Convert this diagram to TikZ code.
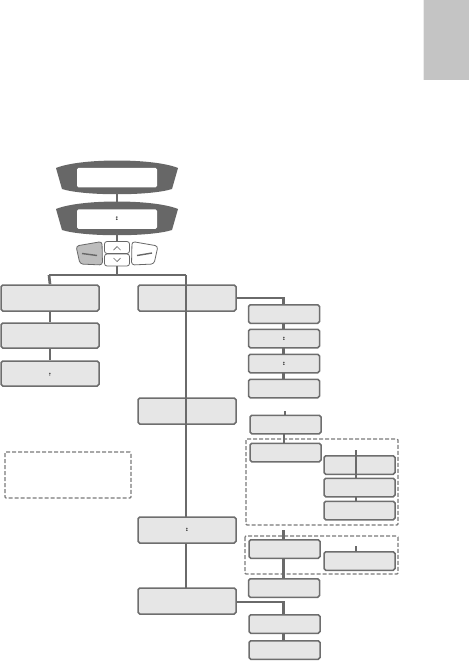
\documentclass[tikz,border=0pt]{standalone}
\usepackage{fontspec}
\newfontfamily\symf{DejaVu Sans}
\begin{document}
\begin{tikzpicture}[x=1pt,y=-1pt,
  conn/.style={draw=linec,line width=2.7pt},
  boxn/.style={draw=boxb,line width=1.5pt,fill=boxf,rounded corners=1.8pt,inner sep=0pt,font=\symf\fontsize{4.5}{5}\selectfont},
  bigbox/.style={boxn,minimum width=98pt,minimum height=26pt},
  smallbox/.style={boxn,minimum width=71pt,minimum height=18.5pt},
  dashbox/.style={draw=dashc,line width=1.2pt,dashed,dash pattern=on 4pt off 2pt,rounded corners=1pt},
  dispouter/.style={fill=dispc},
  dispinner/.style={fill=white,rounded corners=1.5pt,minimum width=80pt,minimum height=19.5pt,inner sep=0pt,font=\symf\fontsize{5}{5}\selectfont},
  btn/.style={draw=dispc,line width=0.8pt,rounded corners=3pt}
]
\definecolor{linec}{HTML}{6A6A6A}
\definecolor{boxb}{HTML}{6E6E6E}
\definecolor{boxf}{HTML}{E6E6E6}
\definecolor{dashc}{HTML}{7A7A7A}
\definecolor{dispc}{HTML}{676767}
\definecolor{tabc}{HTML}{C4C4C4}
\definecolor{btng}{HTML}{BDBDBD}
\useasboundingbox (0,0) rectangle (469,662);
% gray tab
\fill[tabc] (423,0) rectangle (469,80);
\draw[white!85!gray,line width=0.8pt] (423.4,0) -- (423.4,80);
% displays
\fill[dispouter] (56,168) .. controls (80,158) and (154,158) .. (178,168) -- (172,189) .. controls (150,196) and (84,196) .. (62,189) -- cycle;
\node[dispinner] (disp1) at (117,177.5) {};
\begin{scope}[yshift=-41pt]
\fill[dispouter] (56,168) .. controls (80,158) and (154,158) .. (178,168) -- (172,189) .. controls (150,196) and (84,196) .. (62,189) -- cycle;
\end{scope}
\node[dispinner] (disp2) at (117,219) {↕};
\coordinate (d1b) at (117,193);
\coordinate (d2t) at (117,202);
\draw[conn] (d1b) -- (d2t);
% bar
\coordinate (bar) at (117,275);
\coordinate (barL) at (49,275);
\coordinate (barR) at (186,275);
\coordinate (d2b) at (117,233);
\draw[conn] (d2b) -- (bar);
% buttons
\draw[btn,fill=btng] (76,246) -- (102,241.5) -- (102.5,265) -- (80,264) -- cycle;
\draw[dispc,line width=1.4pt] (82,253.5) -- (97,255.5);
\draw[btn,fill=white] (132,241.5) -- (158,246) -- (154,264) -- (131.5,265) -- cycle;
\draw[dispc,line width=1.4pt] (137,255.5) -- (152,253);
\draw[btn,fill=white,rounded corners=2.5pt] (104.5,241.5) rectangle (129.5,253.5);
\draw[btn,fill=white,rounded corners=2.5pt] (104.5,254) rectangle (129.5,266);
\draw[dispc,line width=0.7pt] (113.5,250) -- (117,246.5) -- (120.5,250);
\draw[dispc,line width=0.7pt] (113.5,258) -- (117,261.5) -- (120.5,258);
\draw[conn] (117,266) -- (bar);
% left column
\node[bigbox] (l1) at (50,298) {};
\node[bigbox,minimum height=25pt] (l2) at (50,335.5) {};
\node[bigbox,minimum height=25pt] (l3) at (50,373.5) {\raisebox{-6pt}{↑}};
\draw[conn] (barL) -- (barR);
\draw[conn] (barL) -- (l1.north);
\draw[conn] (l1.south) -- (l2.north);
\draw[conn] (l2.south) -- (l3.north);
% middle column
\node[bigbox] (m1) at (187,298) {};
\node[bigbox] (m2) at (187,411) {};
\draw[conn] (barR) -- (186,517);
\node[bigbox] (m3) at (187,530) {↕};
\node[bigbox] (m4) at (187,601) {};
\draw[conn] (186,543) -- (186,588);
% right column top
\coordinate (j1) at (283.5,298);
\draw[conn] (m1.east |- j1) -- (j1) -- (283.5,305);
\node[smallbox] (r1) at (284,314) {};
\node[smallbox] (r2) at (284,338.5) {\raisebox{-3pt}{↕}};
\node[smallbox] (r3) at (284,363.5) {\raisebox{-3pt}{↕}};
\node[smallbox] (r4) at (284,388.5) {};
\draw[conn] (283.5,323) -- (283.5,329);
\draw[conn] (283.5,348) -- (283.5,354);
\draw[conn] (283.5,373) -- (283.5,379);
\coordinate (r5t) at (285,411);
\node[smallbox] (r5) at (285.5,424.5) {};
\draw[conn] (r5t) -- (r5.north -| r5t);
% dashed group 1
\draw[dashbox] (246,439) rectangle (398,525);
\node[smallbox] (r6) at (285.5,452.5) {};
\draw[conn] (284,434) -- (284,443);
\coordinate (s0) at (356,450);
\node[smallbox] (s1) at (359.5,465) {};
\node[smallbox] (s2) at (359.5,487.5) {};
\node[smallbox] (s3) at (359.5,510.5) {};
\draw[conn] (s0) -- (356,478);
\draw[conn] (356,497) -- (356,501);
% dashed group 2
\draw[dashbox] (245,536) rectangle (398,574);
\coordinate (t0) at (283.5,530);
\node[smallbox] (t1) at (284.5,549) {};
\draw[conn] (t0) -- (283.5,540);
\node[smallbox] (t2) at (284,588) {};
\draw[conn] (283.5,558) -- (283.5,579);
\coordinate (u0) at (356,546);
\node[smallbox] (t3) at (359.5,561) {};
\draw[conn] (u0) -- (356,552);
% bottom
\coordinate (j2) at (283.5,602);
\draw[conn] (m4.east |- j2) -- (j2) -- (283.5,615);
\node[smallbox] (t4) at (284.5,624) {};
\node[smallbox] (t5) at (284.5,650) {};
\draw[conn] (283.5,633) -- (283.5,641);
% left dashed box
\draw[dashbox] (5,452) rectangle (131,498);
\end{tikzpicture}
\end{document}
